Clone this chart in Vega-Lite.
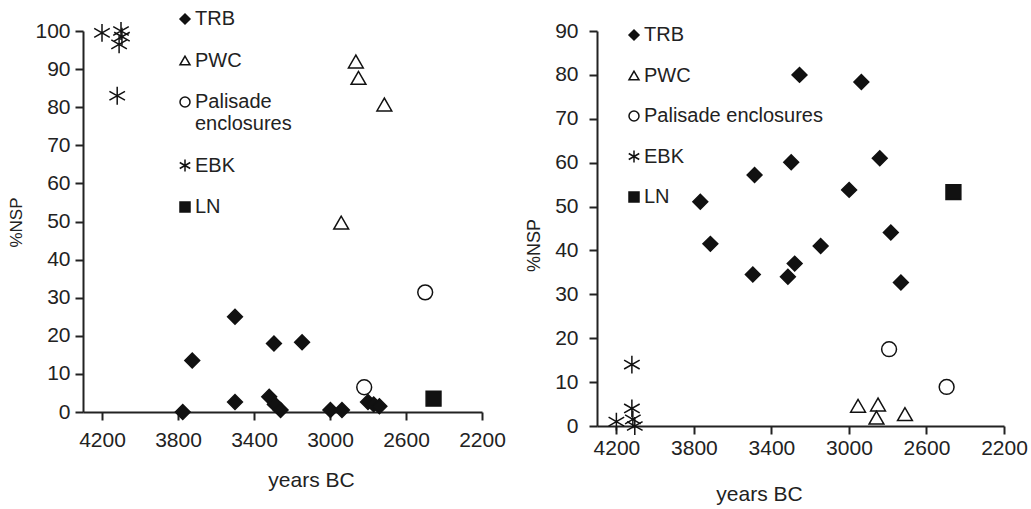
{
  "$schema": "https://vega.github.io/schema/vega-lite/v6.json",
  "background": "white",
  "padding": {"left": 7, "top": 9, "right": 5, "bottom": 5},
  "bounds": "flush",
  "spacing": 115,
  "datasets": {
    "left": [
      {"group": "TRB", "year": 3775, "nsp": 0},
      {"group": "TRB", "year": 3725, "nsp": 13.5},
      {"group": "TRB", "year": 3500, "nsp": 25},
      {"group": "TRB", "year": 3500, "nsp": 2.6},
      {"group": "TRB", "year": 3295, "nsp": 18},
      {"group": "TRB", "year": 3320, "nsp": 4},
      {"group": "TRB", "year": 3290, "nsp": 2},
      {"group": "TRB", "year": 3260, "nsp": 0.5},
      {"group": "TRB", "year": 3147, "nsp": 18.3},
      {"group": "TRB", "year": 2998, "nsp": 0.5},
      {"group": "TRB", "year": 2937, "nsp": 0.5},
      {"group": "TRB", "year": 2800, "nsp": 2.6},
      {"group": "TRB", "year": 2770, "nsp": 2},
      {"group": "TRB", "year": 2740, "nsp": 1.5},
      {"group": "PWC", "year": 2864, "nsp": 92},
      {"group": "PWC", "year": 2850, "nsp": 87.7},
      {"group": "PWC", "year": 2714, "nsp": 80.7},
      {"group": "PWC", "year": 2941, "nsp": 49.7},
      {"group": "Palisade enclosures", "year": 2499, "nsp": 31.4},
      {"group": "Palisade enclosures", "year": 2820, "nsp": 6.5},
      {"group": "EBK", "year": 4200, "nsp": 99.5},
      {"group": "EBK", "year": 4100, "nsp": 100},
      {"group": "EBK", "year": 4095, "nsp": 98.5},
      {"group": "EBK", "year": 4110, "nsp": 96.5},
      {"group": "EBK", "year": 4120, "nsp": 83},
      {"group": "LN", "year": 2455, "nsp": 3.5}
    ],
    "right": [
      {"group": "TRB", "year": 3255, "nsp": 80},
      {"group": "TRB", "year": 2936, "nsp": 78.4},
      {"group": "TRB", "year": 3298, "nsp": 60.1},
      {"group": "TRB", "year": 2841, "nsp": 61},
      {"group": "TRB", "year": 3487, "nsp": 57.2},
      {"group": "TRB", "year": 2999, "nsp": 53.8},
      {"group": "TRB", "year": 3767, "nsp": 51.1},
      {"group": "TRB", "year": 2784, "nsp": 44.1},
      {"group": "TRB", "year": 3715, "nsp": 41.5},
      {"group": "TRB", "year": 3146, "nsp": 41},
      {"group": "TRB", "year": 3496, "nsp": 34.5},
      {"group": "TRB", "year": 3315, "nsp": 34},
      {"group": "TRB", "year": 3280, "nsp": 37},
      {"group": "TRB", "year": 2732, "nsp": 32.7},
      {"group": "PWC", "year": 2953, "nsp": 4.6},
      {"group": "PWC", "year": 2850, "nsp": 4.9},
      {"group": "PWC", "year": 2858, "nsp": 1.9},
      {"group": "PWC", "year": 2711, "nsp": 2.7},
      {"group": "Palisade enclosures", "year": 2793, "nsp": 17.5},
      {"group": "Palisade enclosures", "year": 2496, "nsp": 8.9},
      {"group": "EBK", "year": 4200, "nsp": 1},
      {"group": "EBK", "year": 4120, "nsp": 14},
      {"group": "EBK", "year": 4120, "nsp": 4},
      {"group": "EBK", "year": 4115, "nsp": 1.5},
      {"group": "EBK", "year": 4105, "nsp": 0},
      {"group": "LN", "year": 2461, "nsp": 53.3}
    ]
  },
  "hconcat": [
    {
      "width": 399,
      "height": 381,
      "data": {"name": "left"},
      "mark": {"type": "point", "filled": false, "color": "#111", "size": 220, "strokeWidth": 1.5, "opacity": 1, "clip": false},
      "encoding": {
        "x": {
          "field": "year", "type": "quantitative",
          "scale": {"domain": [2200, 4300], "reverse": true, "nice": false, "zero": false},
          "axis": {"values": [4200, 3800, 3400, 3000, 2600, 2200], "format": "d", "title": "years BC", "labelPadding": 9, "titleX": 228, "titleY": 68, "titleBaseline": "middle", "titleFontSize": 21}
        },
        "y": {
          "field": "nsp", "type": "quantitative",
          "scale": {"domain": [0, 100], "nice": false},
          "axis": {"values": [0, 10, 20, 30, 40, 50, 60, 70, 80, 90, 100], "title": "%NSP", "labelPadding": 5, "titleX": -67, "titleY": 191, "titleBaseline": "middle", "titleAlign": "center", "titleAngle": -90, "titleFontSize": 17}
        },
        "shape": {
          "field": "group", "type": "nominal",
          "scale": {"domain": ["TRB", "PWC", "Palisade enclosures", "EBK", "LN"], "range": ["diamond", "triangle-up", "circle", "M0,-1.2L0,1.2M-1.05,-0.6L1.05,0.6M-1.05,0.6L1.05,-0.6", "square"]},
          "legend": {"orient": "none", "legendX": 92, "legendY": -22, "title": null, "rowPadding": 21.5, "labelOffset": 0, "padding": 0,
            "labelExpr": "datum.label == 'Palisade enclosures' ? ['Palisade', 'enclosures'] : datum.label",
            "encode": {"labels": {"update": {"dy": {"signal": "datum.label == 'Palisade enclosures' ? 11 : 0"}}}}}
        },
        "fill": {
          "field": "group", "type": "nominal",
          "scale": {"domain": ["TRB", "PWC", "Palisade enclosures", "EBK", "LN"], "range": ["#111", "transparent", "transparent", "transparent", "#111"]},
          "legend": {"orient": "none", "legendX": 92, "legendY": -22, "title": null, "rowPadding": 21.5, "labelOffset": 0, "padding": 0,
            "labelExpr": "datum.label == 'Palisade enclosures' ? ['Palisade', 'enclosures'] : datum.label",
            "encode": {"labels": {"update": {"dy": {"signal": "datum.label == 'Palisade enclosures' ? 11 : 0"}}}}}
        },
        "stroke": {
          "field": "group", "type": "nominal",
          "scale": {"domain": ["TRB", "PWC", "Palisade enclosures", "EBK", "LN"], "range": ["#111", "#111", "#111", "#111", "#111"]},
          "legend": {"orient": "none", "legendX": 92, "legendY": -22, "title": null, "rowPadding": 21.5, "labelOffset": 0, "padding": 0,
            "labelExpr": "datum.label == 'Palisade enclosures' ? ['Palisade', 'enclosures'] : datum.label",
            "encode": {"labels": {"update": {"dy": {"signal": "datum.label == 'Palisade enclosures' ? 11 : 0"}}}}}
        }
      }
    },
    {
      "width": 407,
      "height": 395,
      "data": {"name": "right"},
      "mark": {"type": "point", "filled": false, "color": "#111", "size": 220, "strokeWidth": 1.5, "opacity": 1, "clip": false},
      "encoding": {
        "x": {
          "field": "year", "type": "quantitative",
          "scale": {"domain": [2200, 4300], "reverse": true, "nice": false, "zero": false},
          "axis": {"values": [4200, 3800, 3400, 3000, 2600, 2200], "format": "d", "title": "years BC", "labelPadding": 3, "titleX": 162, "titleY": 68, "titleBaseline": "middle", "titleFontSize": 21}
        },
        "y": {
          "field": "nsp", "type": "quantitative",
          "scale": {"domain": [0, 90], "nice": false},
          "axis": {"values": [0, 10, 20, 30, 40, 50, 60, 70, 80, 90], "title": "%NSP", "labelPadding": 11, "titleX": -63, "titleY": 214, "titleBaseline": "middle", "titleAlign": "center", "titleAngle": -90, "titleFontSize": 18}
        },
        "shape": {
          "field": "group", "type": "nominal",
          "scale": {"domain": ["TRB", "PWC", "Palisade enclosures", "EBK", "LN"], "range": ["diamond", "triangle-up", "circle", "M0,-1.2L0,1.2M-1.05,-0.6L1.05,0.6M-1.05,0.6L1.05,-0.6", "square"]},
          "legend": {"orient": "none", "legendX": 27, "legendY": -6, "title": null, "rowPadding": 20.5, "labelOffset": 0, "padding": 0}
        },
        "fill": {
          "field": "group", "type": "nominal",
          "scale": {"domain": ["TRB", "PWC", "Palisade enclosures", "EBK", "LN"], "range": ["#111", "transparent", "transparent", "transparent", "#111"]},
          "legend": {"orient": "none", "legendX": 27, "legendY": -6, "title": null, "rowPadding": 20.5, "labelOffset": 0, "padding": 0}
        },
        "stroke": {
          "field": "group", "type": "nominal",
          "scale": {"domain": ["TRB", "PWC", "Palisade enclosures", "EBK", "LN"], "range": ["#111", "#111", "#111", "#111", "#111"]},
          "legend": {"orient": "none", "legendX": 27, "legendY": -6, "title": null, "rowPadding": 20.5, "labelOffset": 0, "padding": 0}
        }
      }
    }
  ],
  "resolve": {"scale": {"shape": "independent", "fill": "independent", "stroke": "independent"}, "legend": {"shape": "independent", "fill": "independent", "stroke": "independent"}},
  "config": {
    "view": {"stroke": null},
    "font": "Liberation Sans",
    "axis": {
      "grid": false,
      "domainColor": "#222",
      "domainWidth": 2,
      "tickColor": "#222",
      "tickWidth": 2,
      "tickSize": 8,
      "labelFont": "Liberation Sans",
      "labelFontSize": 21,
      "labelColor": "#222",
      "titleFont": "Liberation Sans",
      "titleFontWeight": "normal",
      "titleColor": "#222",
      "labelFlush": false,
      "labelOverlap": false
    },
    "legend": {
      "labelFont": "Liberation Sans",
      "labelFontSize": 20,
      "labelColor": "#222",
      "symbolSize": 100,
      "symbolStrokeWidth": 1.5,
      "labelLimit": 400
    }
  }
}
